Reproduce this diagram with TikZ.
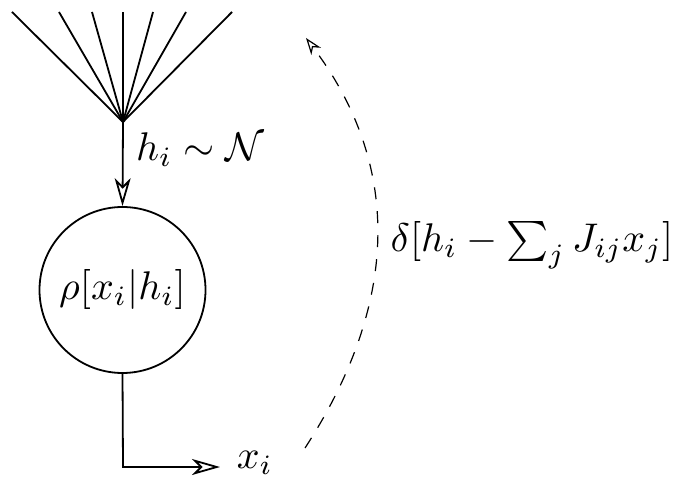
\documentclass[tikz,border=0pt]{standalone}
\usetikzlibrary{arrows.meta}
\tikzset{
  arr/.style={line width=0.45pt,-{Stealth[open,length=7pt,width=4pt,inset=2pt]}},
  darr/.style={dashed,line width=0.3pt,-{Stealth[open,length=4.2pt,width=3pt,inset=1.3pt]}},
  fanline/.style={line width=0.45pt},
  dist/.style={circle,draw,line width=0.45pt,minimum size=41.5pt,inner sep=0pt},
}
\begin{document}
\begin{tikzpicture}[x=0.25pt,y=-0.25pt]
\useasboundingbox (0,0) rectangle (680,478);
\coordinate (apex) at (123,122);
\coordinate (f1) at (12,12);
\coordinate (f2) at (59,12);
\coordinate (f3) at (92,12);
\coordinate (f4) at (123,12);
\coordinate (f5) at (153,12);
\coordinate (f6) at (186,12);
\coordinate (f7) at (232,12);
\foreach \i in {1,...,7} \draw[fanline] (apex) -- (f\i);
\node[dist] (rho) at (122.5,290) {$\rho[x_i|h_i]$};
\node[anchor=west] (hlab) at (122,150) {$h_i\sim\mathcal{N}$};
\draw[arr] (apex) -- (rho.north);
\coordinate (corner) at (123,467);
\node[anchor=west,inner sep=2pt] (xi) at (228,463) {$x_i$};
\coordinate (xtip) at (220,467);
\draw[arr] (rho.south) -- (corner) -- (xtip);
\coordinate (ds) at (305,448);
\coordinate (de) at (306,38);
\draw[darr] (ds) .. controls (400.7,300.7) and (401,164) .. (de);
\node (dlab) at (532,245) {$\delta[h_i-\sum_j J_{ij}x_j]$};
\end{tikzpicture}
\end{document}
